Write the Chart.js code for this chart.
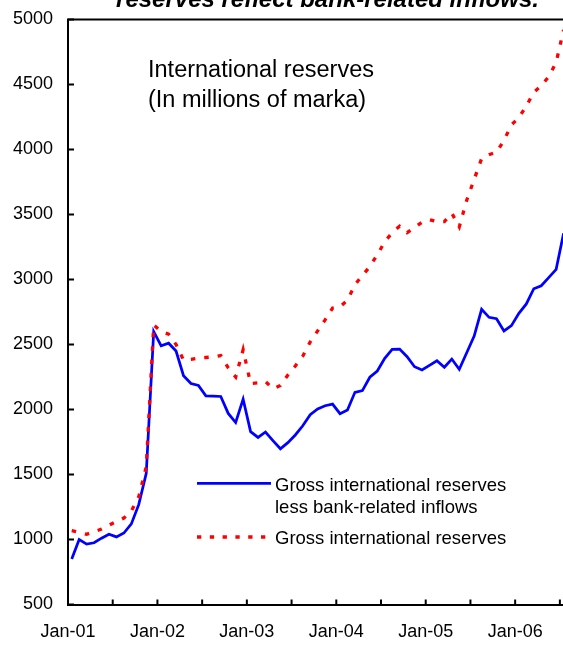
<!DOCTYPE html>
<html>
<head>
<meta charset="utf-8">
<script src="https://cdn.jsdelivr.net/npm/chart.js@4/dist/chart.umd.min.js"></script>
<style>
  html, body { margin: 0; padding: 0; background: #fff; }
</style>
</head>
<body>
<canvas id="chart" width="563" height="645"></canvas>
<script>
// Monthly observations, Jan-01 .. Jul-06
const MONTHS = [
  "Jan-01", "Feb-01", "Mar-01", "Apr-01", "May-01", "Jun-01", "Jul-01", "Aug-01", "Sep-01", "Oct-01", "Nov-01", "Dec-01",
  "Jan-02", "Feb-02", "Mar-02", "Apr-02", "May-02", "Jun-02", "Jul-02", "Aug-02", "Sep-02", "Oct-02", "Nov-02", "Dec-02",
  "Jan-03", "Feb-03", "Mar-03", "Apr-03", "May-03", "Jun-03", "Jul-03", "Aug-03", "Sep-03", "Oct-03", "Nov-03", "Dec-03",
  "Jan-04", "Feb-04", "Mar-04", "Apr-04", "May-04", "Jun-04", "Jul-04", "Aug-04", "Sep-04", "Oct-04", "Nov-04", "Dec-04",
  "Jan-05", "Feb-05", "Mar-05", "Apr-05", "May-05", "Jun-05", "Jul-05", "Aug-05", "Sep-05", "Oct-05", "Nov-05", "Dec-05",
  "Jan-06", "Feb-06", "Mar-06", "Apr-06", "May-06", "Jun-06", "Jul-06",
];

// Gross international reserves less bank-related inflows
const LESS_BANK = [
  850, 1000, 965, 975, 1010, 1040, 1020, 1050, 1120, 1270, 1510, 2600,
  2490, 2510, 2450, 2260, 2200, 2185, 2105, 2103, 2100, 1970, 1900, 2080,
  1830, 1785, 1827, 1760, 1698, 1745, 1804, 1875, 1960, 2004, 2029, 2042,
  1968, 1996, 2132, 2145, 2248, 2296, 2394, 2463, 2465, 2406, 2329, 2304,
  2340, 2375, 2325, 2388, 2309, 2437, 2565, 2771, 2709, 2698, 2604, 2645,
  2740, 2812, 2929, 2952, 3014, 3078, 3355,
];

// Gross international reserves
const GROSS = [
  1068, 1055, 1040, 1060, 1080, 1110, 1140, 1165, 1220, 1330, 1560, 2650,
  2600, 2580, 2500, 2380, 2385, 2395, 2400, 2405, 2415, 2320, 2250, 2460,
  2200, 2205, 2215, 2160, 2185, 2265, 2335, 2410, 2520, 2605, 2690, 2780,
  2790, 2840, 2960, 3030, 3100, 3190, 3290, 3360, 3410, 3360, 3400, 3440,
  3460, 3445, 3445, 3510, 3405, 3610, 3770, 3930, 3960, 3980, 4070, 4190,
  4245, 4335, 4440, 4490, 4560, 4670, 4920,
];

const TICK_LABELS = ["Jan-01", "Jan-02", "Jan-03", "Jan-04", "Jan-05", "Jan-06"];
const Y_TICKS = [500, 1000, 1500, 2000, 2500, 3000, 3500, 4000, 4500, 5000];

const BLUE = "#0000FF";
const RED = "#FF0000";
const X_MAX = 66.42; // right edge of the picture, in months from Jan-01

// points sit in the middle of their month
const toPoints = (vals) => vals.map((v, i) => ({ x: i + 0.5, y: v }));

const decor = {
  id: "decor",
  afterDraw(chart) {
    const { ctx, chartArea: a, scales } = chart;
    ctx.save();
    ctx.strokeStyle = "#000";
    ctx.lineWidth = 2;
    // top frame
    ctx.beginPath();
    ctx.moveTo(a.left - 1, a.top);
    ctx.lineTo(chart.width, a.top);
    ctx.stroke();
    // inward tick marks
    ctx.beginPath();
    Y_TICKS.forEach((v) => {
      const y = scales.y.getPixelForValue(v);
      ctx.moveTo(a.left, y);
      ctx.lineTo(a.left + 6, y);
    });
    for (let m = 6; m <= X_MAX; m += 6) {
      const x = scales.x.getPixelForValue(m);
      ctx.moveTo(x, a.bottom);
      ctx.lineTo(x, a.bottom - 5);
    }
    ctx.stroke();

    ctx.fillStyle = "#000";
    ctx.textBaseline = "alphabetic";
    // cut-off heading
    ctx.font = "italic bold 24px 'Liberation Sans', Arial, sans-serif";
    ctx.textAlign = "center";
    ctx.fillText("reserves reflect bank-related inflows.", 327.5, 6.7);

    ctx.textAlign = "left";
    ctx.font = "23.5px 'Liberation Sans', Arial, sans-serif";
    ctx.fillText("International reserves", 148, 76.7);
    ctx.fillText("(In millions of marka)", 148, 106.5);

    // legend
    ctx.font = "18.5px 'Liberation Sans', Arial, sans-serif";
    ctx.fillText("Gross international reserves", 275, 491);
    ctx.fillText("less bank-related inflows", 275, 512.7);
    ctx.fillText("Gross international reserves", 275, 543.7);

    ctx.lineWidth = 2.75;
    ctx.strokeStyle = BLUE;
    ctx.beginPath();
    ctx.moveTo(197, 483.3);
    ctx.lineTo(271, 483.3);
    ctx.stroke();

    ctx.lineWidth = 3.3;
    ctx.strokeStyle = RED;
    ctx.setLineDash([4.3, 8.5]);
    ctx.beginPath();
    ctx.moveTo(197, 537);
    ctx.lineTo(271, 537);
    ctx.stroke();
    ctx.restore();
  },
};

new Chart(document.getElementById("chart"), {
  type: "line",
  data: {
    labels: MONTHS,
    datasets: [
      {
        label: "Gross international reserves less bank-related inflows",
        data: toPoints(LESS_BANK),
        borderColor: BLUE,
        borderWidth: 2.75,
        pointRadius: 0,
        tension: 0,
        order: 2,
      },
      {
        label: "Gross international reserves",
        data: toPoints(GROSS),
        borderColor: RED,
        borderWidth: 3.3,
        borderDash: [4.5, 9],
        borderCapStyle: "butt",
        pointRadius: 0,
        tension: 0,
        order: 1,
      },
    ],
  },
  options: {
    responsive: false,
    animation: false,
    layout: { padding: { top: 19.5, left: 0, right: 0, bottom: 0 } },
    plugins: { legend: { display: false }, tooltip: { enabled: false } },
    scales: {
      x: {
        type: "linear",
        min: 0,
        max: X_MAX,
        afterBuildTicks: (s) => {
          s.ticks = [];
          for (let m = 0; m <= X_MAX; m += 6) s.ticks.push({ value: m });
        },
        afterFit: (s) => {
          s.height = 40.5;
          s.paddingLeft = 0;
          s.paddingRight = 0;
        },
        grid: { display: false, drawTicks: false },
        border: { display: true, color: "#000", width: 2 },
        ticks: {
          padding: 17,
          autoSkip: false,
          maxRotation: 0,
          color: "#000",
          font: { family: "'Liberation Sans', Arial, sans-serif", size: 18 },
          callback: (v) => (v % 12 === 0 ? TICK_LABELS[v / 12] : ""),
        },
      },
      y: {
        min: 500,
        max: 5000,
        afterBuildTicks: (s) => {
          s.ticks = Y_TICKS.map((v) => ({ value: v }));
        },
        afterFit: (s) => {
          s.width = 68;
          s.paddingTop = 0;
          s.paddingBottom = 0;
        },
        grid: { display: false, drawTicks: false },
        border: { display: true, color: "#000", width: 2 },
        ticks: {
          padding: 15,
          color: "#000",
          font: { family: "'Liberation Sans', Arial, sans-serif", size: 18 },
          callback: (v) => String(v),
        },
      },
    },
  },
  plugins: [decor],
});
</script>
</body>
</html>
